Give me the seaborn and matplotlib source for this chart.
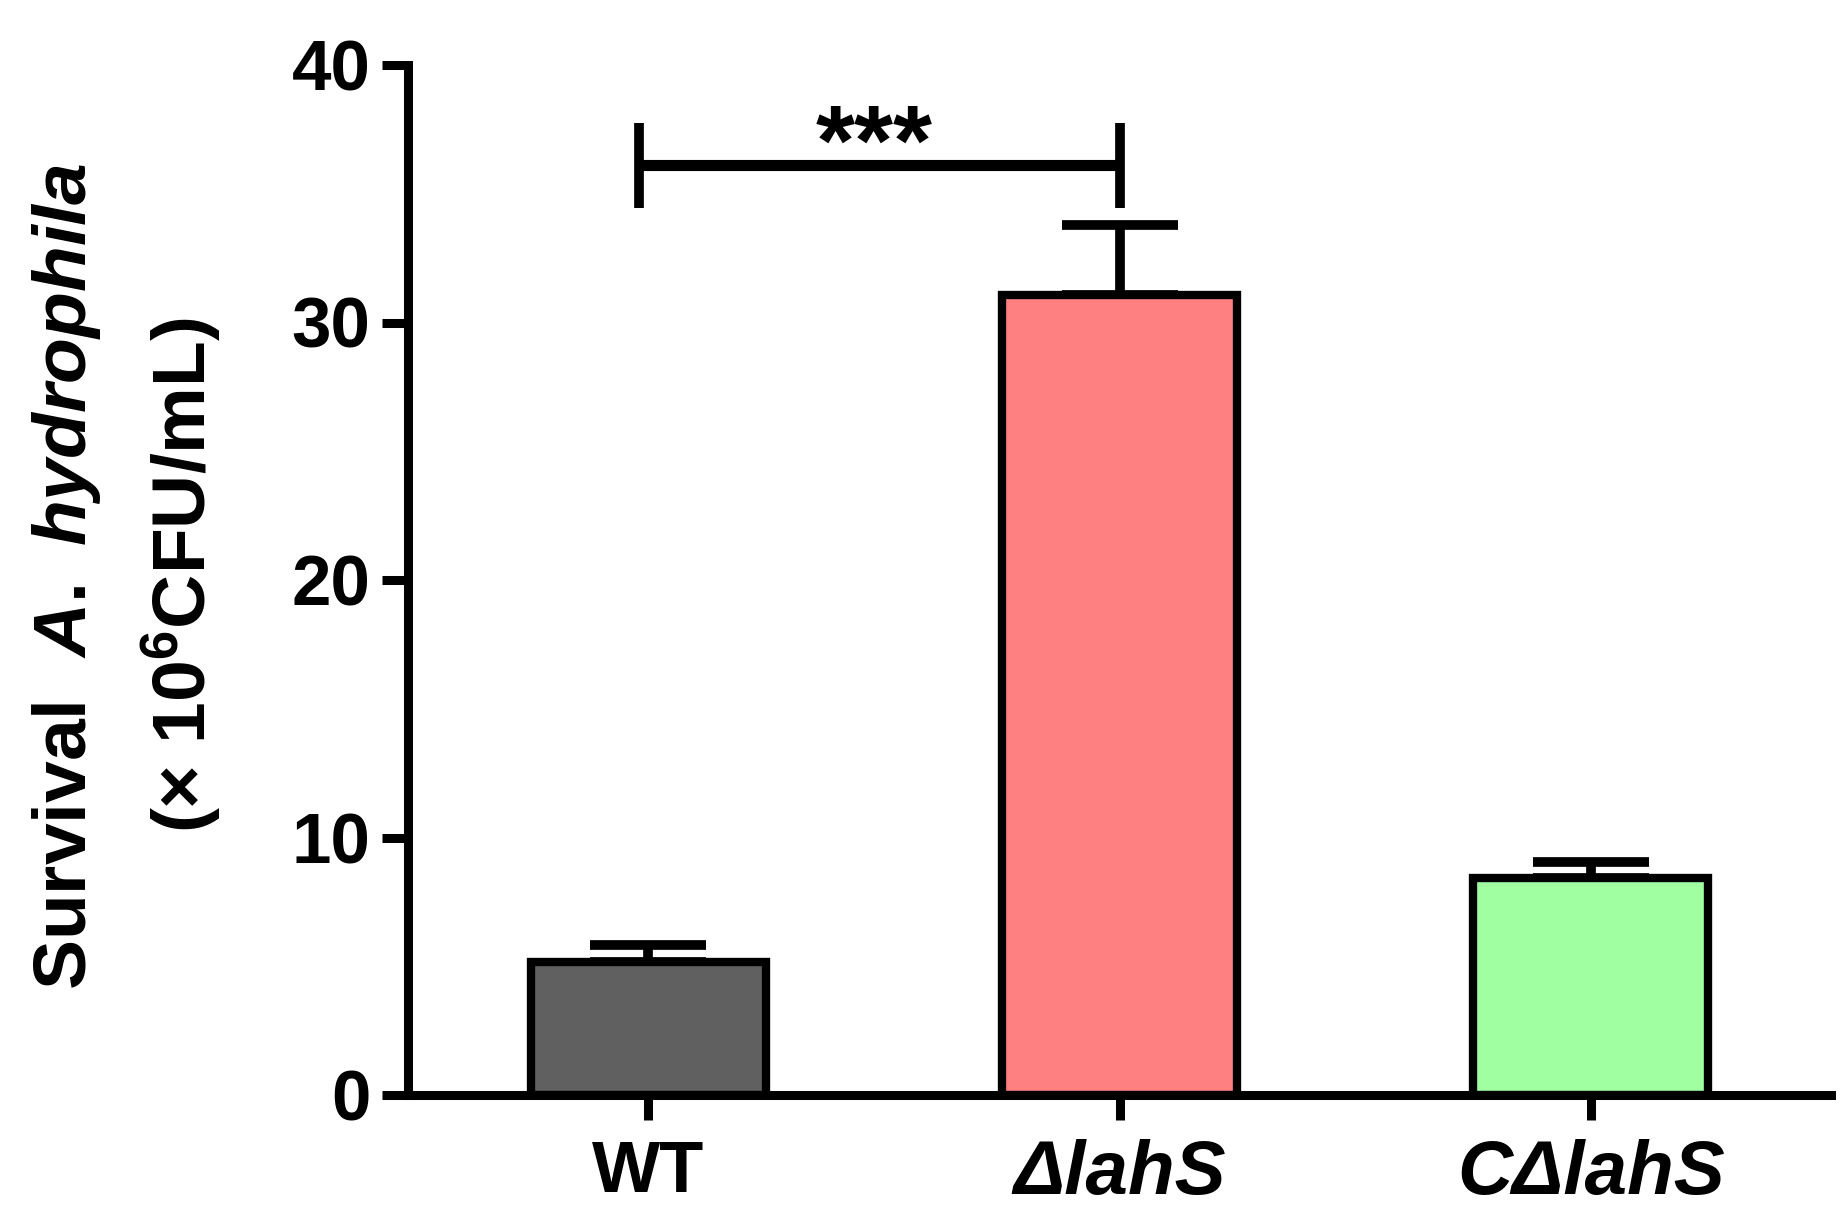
import numpy as np
import pandas as pd
import matplotlib
matplotlib.use("Agg")
import matplotlib.pyplot as plt
import seaborn as sns

# values
strains = ["WT", "ΔlahS", "CΔlahS"]
survival = [5.17, 31.07, 8.43]
sem = [0.66, 2.73, 0.62]
bar_colors = ["#606060", "#FF8080", "#A0FFA0"]
y_ticks = [0, 10, 20, 30, 40]
signif_label = "***"
signif_y = 36.1

sns.set_theme(style="ticks")
plt.rcParams["font.family"] = ["Liberation Sans", "DejaVu Sans"]
plt.rcParams["font.weight"] = "bold"
plt.rcParams["text.color"] = "black"
plt.rcParams["mathtext.fontset"] = "custom"
plt.rcParams["mathtext.rm"] = "Liberation Sans:bold"
plt.rcParams["mathtext.bf"] = "Liberation Sans:bold"
plt.rcParams["mathtext.it"] = "Liberation Sans:italic:bold"

df = pd.DataFrame({"strain": strains, "survival": survival, "sem": sem})

fig = plt.figure(figsize=(18.49, 12.17), dpi=100)
ax = fig.add_axes([408 / 1849, 1 - 1095 / 1217, (1831 - 408) / 1849, (1095 - 65) / 1217])

sns.barplot(data=df, x="strain", y="survival", hue="strain", palette=bar_colors,
            legend=False, width=0.5, saturation=1, edgecolor="black",
            linewidth=6, ax=ax, zorder=2)

# upper error bars only (SEM)
ax.errorbar(np.arange(len(strains)), df["survival"],
            yerr=[np.zeros(len(strains)), df["sem"]], fmt="none",
            ecolor="black", elinewidth=7, capsize=42, capthick=7, zorder=1)

# significance bracket WT vs mutant
ax.plot([-0.02, 1.0], [signif_y, signif_y], color="black", lw=8, solid_capstyle="butt")
ax.plot([-0.02, -0.02], [signif_y - 1.65, signif_y + 1.65], color="black", lw=7, solid_capstyle="butt")
ax.plot([1.0, 1.0], [signif_y - 1.65, signif_y + 1.65], color="black", lw=7, solid_capstyle="butt")
ax.text(0.48, signif_y - 0.35, signif_label, ha="center", va="baseline",
        fontsize=72, fontweight="bold", color="black")

ax.set_xlim(-0.51, 2.51)
ax.set_ylim(0, 40)
ax.set_yticks(y_ticks)
ax.set_yticklabels([str(t) for t in y_ticks], fontsize=51, fontweight="bold")
ax.set_xlabel("")
ax.set_ylabel("")
ax.set_xticks(range(len(strains)))
ax.set_xticklabels(strains, fontweight="bold")
for i, lab in enumerate(ax.get_xticklabels()):
    if i == 0:
        lab.set_fontsize(52)
    else:
        lab.set_fontsize(55)
        lab.set_fontstyle("italic")

sns.despine(ax=ax)
for side in ["left", "bottom"]:
    ax.spines[side].set_linewidth(6.5)
    ax.spines[side].set_color("black")
ax.tick_params(axis="y", length=19, width=6.5, pad=8, colors="black")
ax.tick_params(axis="x", length=18, width=6.5, pad=14, colors="black")
ax.grid(False)

# two-line y label
fig.text(0.036, 0.526, r"Survival  $\mathit{A.\ hydrophila}$", rotation=90,
         ha="center", va="center", fontsize=54, fontweight="bold", color="black")
fig.text(0.098, 0.527, r"(× 10$^{6}$CFU/mL)", rotation=90,
         ha="center", va="center", fontsize=54, fontweight="bold", color="black")

fig.savefig("out.png", dpi=100)
